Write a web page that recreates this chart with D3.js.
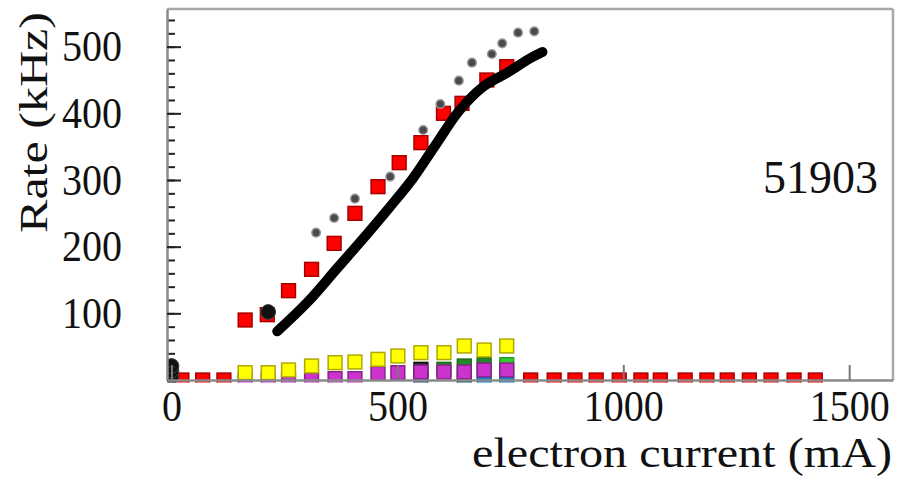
<!DOCTYPE html>
<html><head><meta charset="utf-8">
<script src="https://cdn.jsdelivr.net/npm/d3@7"></script>
<style>
html,body{margin:0;padding:0;background:#fff;}
svg{display:block;}
text{font-family:"Liberation Serif","Times New Roman",serif;fill:#111;}
</style></head>
<body>
<svg id="chart" width="907" height="478"></svg>
<script>
// ---- data ----
const redX = [23, 69, 116, 163, 212, 259, 310, 360, 406, 457, 504, 552, 602, 643, 698, 742,
              795, 847, 893, 940, 991, 1039, 1082, 1137, 1185, 1230, 1279, 1327, 1378, 1425];
const redY = [0, 0, 0, 90, 98, 134, 166, 205, 250, 290, 326, 356, 400, 415, 450, 470,
              0, 0, 0, 0, 0, 0, 0, 0, 0, 0, 0, 0, 0, 0];
const grayX = [320, 360, 406, 484, 557, 595, 636, 665, 709, 732, 767, 803];
const grayY = [221, 243, 272, 305, 375, 414, 449, 476, 489, 505, 521, 523];
const curveX = [234, 300, 366, 433, 484, 535, 585, 637, 690, 743, 795, 821];
const curveY = [73, 116, 167, 219, 260, 303, 353, 404, 440, 461, 483, 492];
const blackX = [0, 0, 0, 214];
const blackY = [6, 14, 21, 102];
const bottomX = [163, 214, 259, 310, 362, 406, 457, 501, 552, 603, 648, 692, 742];
const yellowY = [11, 11, 15, 21, 26, 27, 31, 36, 41, 41, 51, 45, 51];
const magentaY = [0, 0, 0, 0, 2, 2, 10, 11, 12, 12, 12, 15, 15];
const greenX = [603, 648, 692];
const greenY = [16, 21, 23];
const limeX = [742];
const limeY = [23];
const darkX = [552];
const darkY = [16];
const navyX = [552, 648];
const navyY = [0, 0];
const skyX = [692, 742];
const skyY = [0, 0];
const yTicks = [100, 200, 300, 400, 500];
const yMinor = d3.range(20, 560, 20);
const xTicks = [0, 500, 1000, 1500];
const annotation = "51903";
const xTitle = "electron current (mA)";
const yTitle = "Rate (kHz)";

// ---- layout ----
const svg = d3.select("#chart");
const L = 167, R = 893, T = 9, B = 380;
const x = d3.scaleLinear().domain([-10, 1597]).range([L, R]);
const y = d3.scaleLinear().domain([0, 556.5]).range([B, T]);
const fmt = d3.format("d");

svg.append("defs").append("clipPath").attr("id", "clip")
  .append("rect").attr("x", L).attr("y", T).attr("width", R - L).attr("height", B + 2.5 - T);

// frame (top and right)
svg.append("line").attr("x1", L).attr("x2", R).attr("y1", T).attr("y2", T)
  .attr("stroke", "#a8a8a8").attr("stroke-width", 2.5);
svg.append("line").attr("x1", R).attr("x2", R).attr("y1", T).attr("y2", B)
  .attr("stroke", "#a8a8a8").attr("stroke-width", 2.5);

const plot = svg.append("g").attr("clip-path", "url(#clip)");

function squares(xs, ys, fill, stroke) {
  const data = xs.map((v, i) => [v, ys[i]]);
  plot.append("g").selectAll("rect").data(data).join("rect")
    .attr("x", d => x(d[0]) - 6.9).attr("y", d => y(d[1]) - 6.9)
    .attr("width", 13.8).attr("height", 13.8)
    .attr("fill", fill).attr("stroke", stroke).attr("stroke-width", 1.5);
}

// low-rate series
squares(navyX, navyY, "#1e4a8a", "#1a3560");
squares(skyX, skyY, "#0a88d0", "#0a6aa0");
squares(greenX, greenY, "#22882a", "#1a6a20");
squares(limeX, limeY, "#33cc33", "#22a022");
squares(darkX, darkY, "#2a2a2a", "#111");
squares(bottomX, magentaY, "#cc33cc", "#882288");
squares(bottomX, yellowY, "#ffff00", "#b0a800");

// red squares
squares(redX, redY, "#ff0000", "#a80000");

// gray dots
plot.append("g").selectAll("circle").data(grayX.map((v, i) => [v, grayY[i]])).join("circle")
  .attr("cx", d => x(d[0])).attr("cy", d => y(d[1])).attr("r", 4.3)
  .attr("fill", "#4a4a4a").attr("stroke", "#999").attr("stroke-width", 1.5);

// black thick curve
const line = d3.line().x(d => x(d[0])).y(d => y(d[1])).curve(d3.curveCatmullRom);
plot.append("path").datum(curveX.map((v, i) => [v, curveY[i]]))
  .attr("d", line).attr("fill", "none").attr("stroke", "#000")
  .attr("stroke-width", 10).attr("stroke-linecap", "round").attr("stroke-linejoin", "round");

// black circles
plot.append("g").selectAll("circle").data(blackX.map((v, i) => [v, blackY[i]])).join("circle")
  .attr("cx", d => x(d[0])).attr("cy", d => y(d[1])).attr("r", 7.4)
  .attr("fill", "#111").attr("stroke", "#444").attr("stroke-width", 1);

// y axis
const yMinorAxis = d3.axisLeft(y).tickValues(yMinor).tickSizeInner(-8).tickSizeOuter(0).tickFormat("");
svg.append("g").attr("transform", `translate(${L},0)`).call(yMinorAxis)
  .call(g => g.select(".domain").remove())
  .call(g => g.selectAll("line").attr("stroke", "#222").attr("stroke-width", 2));
const yAxis = d3.axisLeft(y).tickValues(yTicks).tickSizeInner(-14).tickSizeOuter(0)
  .tickPadding(45).tickFormat(fmt);
svg.append("g").attr("transform", `translate(${L},0)`).call(yAxis)
  .call(g => g.select(".domain").attr("stroke", "#8a8a8a").attr("stroke-width", 2.5))
  .call(g => g.selectAll("line").attr("stroke", "#222").attr("stroke-width", 2))
  .call(g => g.selectAll("text").attr("font-size", 44).attr("fill", "#111")
    .attr("font-family", "Liberation Serif, serif")
    .attr("textLength", d => fmt(d).length * 20).attr("lengthAdjust", "spacingAndGlyphs"));

// x axis
const xAxis = d3.axisBottom(x).tickValues(xTicks).tickSizeInner(-15).tickSizeOuter(0).tickFormat(fmt);
svg.append("g").attr("transform", `translate(0,${B})`).call(xAxis)
  .call(g => g.select(".domain").attr("stroke", "#8a8a8a").attr("stroke-width", 2.5))
  .call(g => g.selectAll("line").attr("stroke", "#777").attr("stroke-width", 2))
  .call(g => g.selectAll("text").attr("y", 41).attr("dy", null).attr("font-size", 44)
    .attr("fill", "#111").attr("font-family", "Liberation Serif, serif")
    .attr("textLength", d => fmt(d).length * 20).attr("lengthAdjust", "spacingAndGlyphs"));

// titles
svg.append("text").attr("x", 892).attr("y", 467).attr("text-anchor", "end")
  .attr("font-size", 42).attr("textLength", 420).attr("lengthAdjust", "spacingAndGlyphs")
  .text(xTitle);
svg.append("text").attr("transform", "translate(47,12) rotate(-90)").attr("text-anchor", "end")
  .attr("font-size", 40).attr("textLength", 221).attr("lengthAdjust", "spacingAndGlyphs")
  .text(yTitle);
svg.append("text").attr("x", 878).attr("y", 193).attr("text-anchor", "end")
  .attr("font-size", 46).text(annotation);
</script>
</body></html>
